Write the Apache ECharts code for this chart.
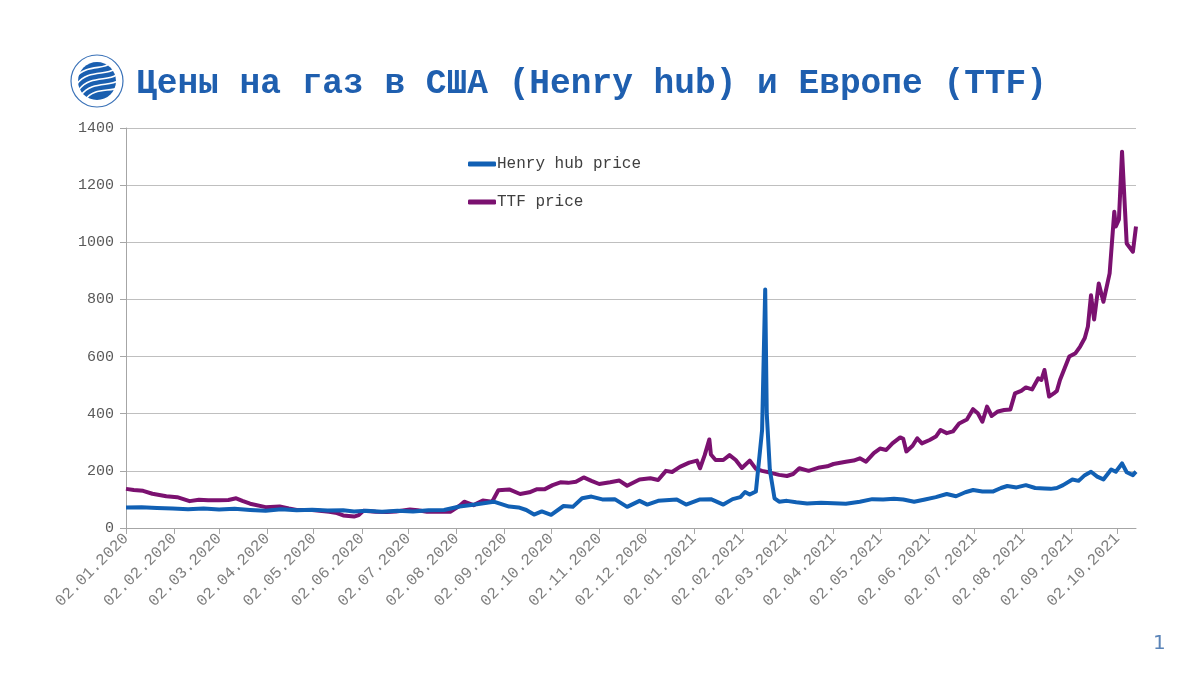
<!DOCTYPE html>
<html>
<head>
<meta charset="utf-8">
<script src="https://cdn.jsdelivr.net/npm/echarts@6/dist/echarts.min.js"></script>
<style>
html,body{margin:0;padding:0;background:#fff;}
#chart{width:1200px;height:675px;}
</style>
</head>
<body>
<div id="chart"></div>
<script>
// ---- data ----
const titleText = 'Цены на газ в США (Henry hub) и Европе (TTF)';
const seriesNames = ['Henry hub price', 'TTF price'];
const axisStart = '2020-01-02';
const axisEnd = '2021-10-14';
const yTicks = [0, 200, 400, 600, 800, 1000, 1200, 1400];

const hhDates = ['2020-01-02','2020-01-12','2020-01-22','2020-02-01','2020-02-11','2020-02-21','2020-03-02','2020-03-12','2020-03-22','2020-04-01','2020-04-11','2020-04-21','2020-05-01','2020-05-11','2020-05-21','2020-05-28','2020-06-05','2020-06-15','2020-06-25','2020-07-05','2020-07-15','2020-07-25','2020-08-04','2020-08-14','2020-08-26','2020-09-05','2020-09-11','2020-09-16','2020-09-21','2020-09-26','2020-10-02','2020-10-10','2020-10-16','2020-10-22','2020-10-28','2020-11-04','2020-11-12','2020-11-20','2020-11-28','2020-12-03','2020-12-10','2020-12-22','2020-12-28','2021-01-06','2021-01-13','2021-01-21','2021-01-27','2021-02-01','2021-02-04','2021-02-07','2021-02-11','2021-02-15','2021-02-17','2021-02-18','2021-02-20','2021-02-23','2021-02-26','2021-03-03','2021-03-09','2021-03-16','2021-03-25','2021-04-02','2021-04-10','2021-04-19','2021-04-27','2021-05-04','2021-05-11','2021-05-17','2021-05-24','2021-05-31','2021-06-07','2021-06-14','2021-06-20','2021-06-26','2021-07-01','2021-07-07','2021-07-14','2021-07-19','2021-07-23','2021-07-29','2021-08-04','2021-08-10','2021-08-16','2021-08-20','2021-08-24','2021-08-28','2021-09-03','2021-09-07','2021-09-11','2021-09-15','2021-09-19','2021-09-23','2021-09-28','2021-10-01','2021-10-05','2021-10-08','2021-10-12','2021-10-14'];
const hhValues = [72,73,70,68,66,68,65,67,63,60,66,62,64,61,62,58,60,57,60,58,62,63,75,82,92,75,72,63,47,58,46,77,74,104,110,100,101,74,95,82,95,100,82,100,101,82,101,108,126,117,128,343,835,400,203,104,92,95,90,86,88,87,85,92,101,100,102,100,92,100,108,119,111,125,133,128,128,140,147,142,150,140,138,137,140,150,170,165,185,197,180,170,205,197,226,195,185,197];

const ttfDates = ['2020-01-02','2020-01-07','2020-01-13','2020-01-19','2020-01-28','2020-02-04','2020-02-12','2020-02-18','2020-02-24','2020-03-02','2020-03-08','2020-03-13','2020-03-17','2020-03-22','2020-04-01','2020-04-10','2020-04-16','2020-04-21','2020-05-01','2020-05-12','2020-05-17','2020-05-21','2020-05-28','2020-05-31','2020-06-03','2020-06-11','2020-06-18','2020-06-24','2020-07-03','2020-07-08','2020-07-14','2020-07-24','2020-07-29','2020-08-04','2020-08-07','2020-08-13','2020-08-19','2020-08-25','2020-08-29','2020-09-05','2020-09-12','2020-09-18','2020-09-23','2020-09-28','2020-10-03','2020-10-08','2020-10-13','2020-10-18','2020-10-23','2020-10-28','2020-11-02','2020-11-09','2020-11-15','2020-11-20','2020-11-28','2020-12-05','2020-12-10','2020-12-15','2020-12-19','2020-12-24','2020-12-30','2021-01-04','2021-01-06','2021-01-09','2021-01-12','2021-01-13','2021-01-16','2021-01-21','2021-01-25','2021-01-29','2021-02-02','2021-02-07','2021-02-11','2021-02-15','2021-02-20','2021-02-26','2021-03-03','2021-03-07','2021-03-11','2021-03-17','2021-03-24','2021-03-29','2021-04-02','2021-04-10','2021-04-15','2021-04-19','2021-04-23','2021-04-28','2021-05-02','2021-05-06','2021-05-10','2021-05-15','2021-05-17','2021-05-19','2021-05-23','2021-05-26','2021-05-29','2021-06-03','2021-06-07','2021-06-10','2021-06-14','2021-06-18','2021-06-22','2021-06-27','2021-07-01','2021-07-04','2021-07-07','2021-07-10','2021-07-13','2021-07-17','2021-07-21','2021-07-25','2021-07-28','2021-08-01','2021-08-04','2021-08-08','2021-08-12','2021-08-14','2021-08-16','2021-08-19','2021-08-22','2021-08-24','2021-08-26','2021-09-01','2021-09-05','2021-09-08','2021-09-11','2021-09-13','2021-09-15','2021-09-17','2021-09-20','2021-09-23','2021-09-27','2021-09-30','2021-10-01','2021-10-03','2021-10-05','2021-10-08','2021-10-12','2021-10-14'];
const ttfValues = [137,133,130,120,111,108,94,99,97,97,98,104,95,85,73,75,68,63,63,57,52,44,40,45,60,57,56,58,65,62,57,58,57,78,92,80,96,92,132,135,119,125,136,136,150,160,158,162,177,165,154,160,166,148,170,174,168,200,196,214,229,236,209,255,310,257,238,238,255,238,210,236,207,200,194,186,182,189,209,200,212,216,224,232,236,244,232,262,278,273,296,317,312,268,288,314,296,308,320,343,332,338,366,380,416,402,372,425,392,408,413,415,471,480,492,485,524,518,553,460,471,480,518,600,612,635,665,705,815,730,856,792,891,1107,1055,1080,1317,996,967,1055];

// ---- build the calendar-day category axis ----
function buildDays(a, b) {
  const out = [];
  const d = new Date(a + 'T00:00:00Z');
  const end = new Date(b + 'T00:00:00Z');
  while (d <= end) {
    out.push(d.toISOString().slice(0, 10));
    d.setUTCDate(d.getUTCDate() + 1);
  }
  return out;
}
const categories = buildDays(axisStart, axisEnd);
const idx = {};
categories.forEach((c, i) => idx[c] = i);
function toSeries(dates, values) {
  const arr = new Array(categories.length).fill(null);
  dates.forEach((d, i) => { arr[idx[d]] = values[i]; });
  return arr;
}
const isMonthTick = (i, v) => v.slice(8, 10) === '02';

const chart = echarts.init(document.getElementById('chart'));
const blue = '#1160B4';
const purple = '#7B1170';
const mono = '"Liberation Mono", "DejaVu Sans Mono", monospace';

chart.setOption({
  animation: false,
  backgroundColor: '#ffffff',
  grid: { left: 126, right: 64, top: 128, bottom: 147, containLabel: false },
  legend: {
    data: seriesNames,
    orient: 'vertical',
    left: 463,
    top: 151,
    itemGap: 22,
    itemWidth: 28,
    itemHeight: 5,
    icon: 'roundRect',
    textStyle: { fontFamily: mono, fontSize: 16, color: '#404040', padding: [0, 0, 0, -4] }
  },
  xAxis: {
    type: 'category',
    data: categories,
    boundaryGap: false,
    axisLine: { lineStyle: { color: '#A6A6A6', width: 1 } },
    axisTick: { show: true, interval: isMonthTick, length: 6, lineStyle: { color: '#A6A6A6' } },
    axisLabel: {
      interval: isMonthTick,
      rotate: 45,
      margin: 8,
      fontFamily: mono,
      fontSize: 16,
      color: '#808080',
      formatter: v => v.slice(8, 10) + '.' + v.slice(5, 7) + '.' + v.slice(0, 4)
    },
    splitLine: { show: false }
  },
  yAxis: {
    type: 'value',
    min: yTicks[0],
    max: yTicks[yTicks.length - 1],
    interval: yTicks[1] - yTicks[0],
    axisLine: { show: true, lineStyle: { color: '#A6A6A6', width: 1 } },
    axisTick: { show: true, length: 6, lineStyle: { color: '#A6A6A6' } },
    axisLabel: { fontFamily: mono, fontSize: 15, color: '#595959', margin: 12, formatter: v => String(v) },
    splitLine: { lineStyle: { color: '#BFBFBF', width: 1 } }
  },
  series: [
    {
      name: seriesNames[0], type: 'line', data: toSeries(hhDates, hhValues),
      connectNulls: true, showSymbol: false, symbol: 'none',
      lineStyle: { color: blue, width: 4, join: 'round' }, itemStyle: { color: blue }, z: 3
    },
    {
      name: seriesNames[1], type: 'line', data: toSeries(ttfDates, ttfValues),
      connectNulls: true, showSymbol: false, symbol: 'none',
      lineStyle: { color: purple, width: 4, join: 'round' }, itemStyle: { color: purple }, z: 2
    }
  ],
  graphic: [
    { type: 'circle', shape: { cx: 97, cy: 81, r: 26 }, style: { fill: '#fff', stroke: '#3A72B8', lineWidth: 1.2 } },
    { type: 'circle', shape: { cx: 97, cy: 81, r: 19 }, style: { fill: '#1A5FB0' } },
    { type: 'group', x: 97, y: 81, rotation: 0.35, children: [
      { type: 'bezierCurve', shape: { x1: -20, y1: -10, x2: 18, y2: -12, cpx1: -5, cpy1: -20, cpx2: 10, cpy2: -8 }, style: { stroke: '#fff', lineWidth: 1.6, fill: null } },
      { type: 'bezierCurve', shape: { x1: -20, y1: -4, x2: 20, y2: -5, cpx1: -5, cpy1: -14, cpx2: 10, cpy2: -2 }, style: { stroke: '#fff', lineWidth: 1.6, fill: null } },
      { type: 'bezierCurve', shape: { x1: -20, y1: 2, x2: 20, y2: 1, cpx1: -5, cpy1: -8, cpx2: 10, cpy2: 4 }, style: { stroke: '#fff', lineWidth: 1.6, fill: null } },
      { type: 'bezierCurve', shape: { x1: -20, y1: 8, x2: 20, y2: 7, cpx1: -5, cpy1: -2, cpx2: 10, cpy2: 10 }, style: { stroke: '#fff', lineWidth: 1.6, fill: null } },
      { type: 'bezierCurve', shape: { x1: -18, y1: 14, x2: 18, y2: 13, cpx1: -5, cpy1: 4, cpx2: 10, cpy2: 16 }, style: { stroke: '#fff', lineWidth: 1.6, fill: null } }
    ]},
    { type: 'text', left: 136, top: 67, style: { text: titleText, fontFamily: mono, fontWeight: 'bold', fontSize: 34.5, fill: '#1F5FAF' } },
    { type: 'text', left: 1153, top: 634, style: { text: '1', fontFamily: '"DejaVu Sans", sans-serif', fontSize: 20, fill: '#5B84B8' } }
  ]
});
</script>
</body>
</html>
